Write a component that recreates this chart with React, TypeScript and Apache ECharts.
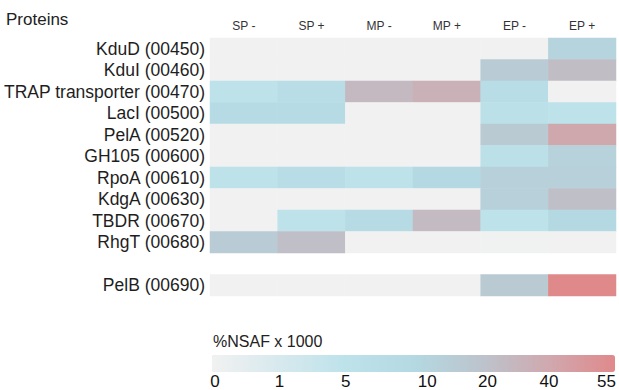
import React, { useEffect, useRef } from "react";
import * as echarts from "echarts";

const columns = ["SP -", "SP +", "MP -", "MP +", "EP -", "EP +"];
const proteins = [
  "KduD (00450)",
  "KduI (00460)",
  "TRAP transporter (00470)",
  "LacI (00500)",
  "PelA (00520)",
  "GH105 (00600)",
  "RpoA (00610)",
  "KdgA (00630)",
  "TBDR (00670)",
  "RhgT (00680)",
];
const separateProtein = "PelB (00690)";

// %NSAF x 1000 per protein, columns SP-, SP+, MP-, MP+, EP-, EP+
const kduD = [0, 0, 0, 0, 0, 10];
const kduI = [0, 0, 0, 0, 14, 22];
const trap = [5, 7, 25, 32, 7, 0];
const lacI = [8, 8, 0, 0, 6, 5];
const pelA = [0, 0, 0, 0, 15, 38];
const gh105 = [0, 0, 0, 0, 6, 11];
const rpoA = [5, 7, 5, 9, 12, 12];
const kdgA = [0, 0, 0, 0, 12, 20];
const tbdr = [0, 5, 8, 24, 5, 9];
const rhgT = [14, 21, 0, 0, 0.05, 0];
const pelB = [0, 0, 0, 0, 15, 55];

const mainRows = [kduD, kduI, trap, lacI, pelA, gh105, rpoA, kdgA, tbdr, rhgT];

// colour scale: tick values and where they sit on the colour bar (0..1)
const legendTicks = [0, 1, 5, 10, 20, 40, 55];
const legendTickPos = [0, 0.165, 0.334, 0.542, 0.696, 0.853, 1];
const gradientColors = ["#f1f1f1", "#d7e9ee", "#bde2ea", "#b4d9e2", "#bcc4cd", "#cfa9af", "#e0898b"];

const FONT = "Liberation Sans, Arial, sans-serif";

function toScale(v: number): number {
  if (v <= legendTicks[0]) return 0;
  for (let i = 1; i < legendTicks.length; i++) {
    if (v <= legendTicks[i]) {
      const f = (v - legendTicks[i - 1]) / (legendTicks[i] - legendTicks[i - 1]);
      return legendTickPos[i - 1] + f * (legendTickPos[i] - legendTickPos[i - 1]);
    }
  }
  return 1;
}

export default function App() {
  const ref = useRef<HTMLDivElement>(null);
  useEffect(() => {
    if (!ref.current) return;
    const chart = echarts.init(ref.current, undefined, { renderer: "svg" });
    const rowLabels = [...proteins, "", separateProtein];
    const data: any[] = [];
    mainRows.forEach((row, r) => {
      row.forEach((v, c) => data.push([c, r, v, toScale(v)]));
    });
    pelB.forEach((v, c) => data.push([c, rowLabels.length - 1, v, toScale(v)]));

    chart.setOption({
      animation: false,
      backgroundColor: "#ffffff",
      title: [
        {
          text: "Proteins",
          left: 6,
          top: 11,
          padding: 0,
          textStyle: { fontSize: 17, fontWeight: "normal", color: "#222", fontFamily: FONT },
        },
        {
          text: "%NSAF x 1000",
          left: 213,
          top: 333,
          padding: 0,
          textStyle: { fontSize: 16, fontWeight: "normal", color: "#222", fontFamily: FONT },
        },
      ],
      grid: [
        { left: 210, top: 38, width: 406, height: 258 },
        { left: 215, right: 9, top: 372, height: 1 },
      ],
      xAxis: [
        {
          type: "category",
          gridIndex: 0,
          data: columns,
          position: "top",
          axisLine: { show: false },
          axisTick: { show: false },
          splitLine: { show: false },
          axisLabel: { fontSize: 12, color: "#333", margin: 6, fontFamily: FONT },
        },
        {
          type: "value",
          gridIndex: 1,
          min: 0,
          max: 1,
          axisLine: { show: false },
          axisTick: { show: false },
          splitLine: { show: false },
          axisLabel: {
            customValues: legendTickPos,
            fontSize: 17,
            color: "#111",
            margin: 1,
            fontFamily: FONT,
            formatter: (v: number) => {
              let best = 0;
              legendTickPos.forEach((p, i) => {
                if (Math.abs(p - v) < Math.abs(legendTickPos[best] - v)) best = i;
              });
              return String(legendTicks[best]);
            },
          },
        },
      ],
      yAxis: [
        {
          type: "category",
          gridIndex: 0,
          data: rowLabels,
          inverse: true,
          axisLine: { show: false },
          axisTick: { show: false },
          splitLine: { show: false },
          axisLabel: { interval: 0, fontSize: 17.5, color: "#1e1e1e", margin: 5, fontFamily: FONT },
        },
        { type: "value", gridIndex: 1, show: false },
      ],
      visualMap: {
        type: "continuous",
        min: 0,
        max: 1,
        dimension: 3,
        seriesIndex: 0,
        orient: "horizontal",
        left: 212,
        top: 355,
        itemWidth: 17,
        itemHeight: 403,
        padding: 0,
        calculable: false,
        hoverLink: false,
        text: ["", ""],
        showLabel: false,
        inRange: { color: gradientColors },
      },
      series: [
        {
          type: "heatmap",
          xAxisIndex: 0,
          yAxisIndex: 0,
          data,
          itemStyle: { borderWidth: 0 },
          emphasis: { disabled: true },
        },
      ],
    });
    return () => chart.dispose();
  }, []);
  return (
    <div
      ref={ref}
      style={{ position: "absolute", left: 0, top: 0, width: 619, height: 390 }}
    />
  );
}
